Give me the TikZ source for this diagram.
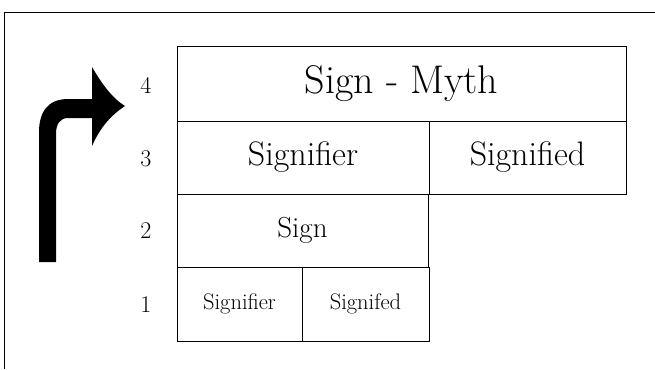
\documentclass[tikz,border=0pt]{standalone}
\begin{document}
\begin{tikzpicture}[x=1pt,y=-1pt,
  cell/.style={draw=black,line width=1pt,rectangle,inner sep=0pt,anchor=center},
  lvl/.style={inner sep=0pt,font=\fontsize{24}{28}\selectfont}]
\useasboundingbox (0,0) rectangle (655,369);
% outer frame
\draw[line width=1pt] (4,369) -- (4,13) -- (655,13);
% cells
\node[cell,minimum width=449pt,minimum height=74pt,font=\fontsize{40}{44}\selectfont] (myth) at (401.5,84) {Sign - Myth};
\node[cell,minimum width=252pt,minimum height=73pt,font=\fontsize{34}{38}\selectfont] (sr3) at (303,157.5) {Signifier};
\node[cell,minimum width=197pt,minimum height=73pt,font=\fontsize{34}{38}\selectfont] (sd3) at (527.5,157.5) {Signified};
\node[cell,minimum width=251pt,minimum height=73pt,font=\fontsize{29}{33}\selectfont] (sign2) at (302.5,230.5) {Sign};
\node[cell,minimum width=125pt,minimum height=74pt,font=\fontsize{22.5}{26}\selectfont] (sr1) at (239.5,304) {Signifier};
\node[cell,minimum width=127pt,minimum height=74pt,font=\fontsize{22.5}{26}\selectfont] (sd1) at (365.5,304) {Signifed};
% level numbers
\node[lvl] (n4) at (146,85) {4};
\node[lvl] (n3) at (146,159) {3};
\node[lvl] (n2) at (146,231) {2};
\node[lvl] (n1) at (146,305) {1};
% bent arrow
\fill[black] (39,262) -- (39,132)
  .. controls (39,112) and (48,99) .. (68,99)
  -- (92,99) -- (92,67)
  .. controls (102,84) and (112,98) .. (125,106)
  .. controls (110,116) and (100,128) .. (92,146)
  -- (92,118) -- (68,118)
  .. controls (60,118) and (56,124) .. (56,134)
  -- (56,262) -- cycle;
\end{tikzpicture}
\end{document}
